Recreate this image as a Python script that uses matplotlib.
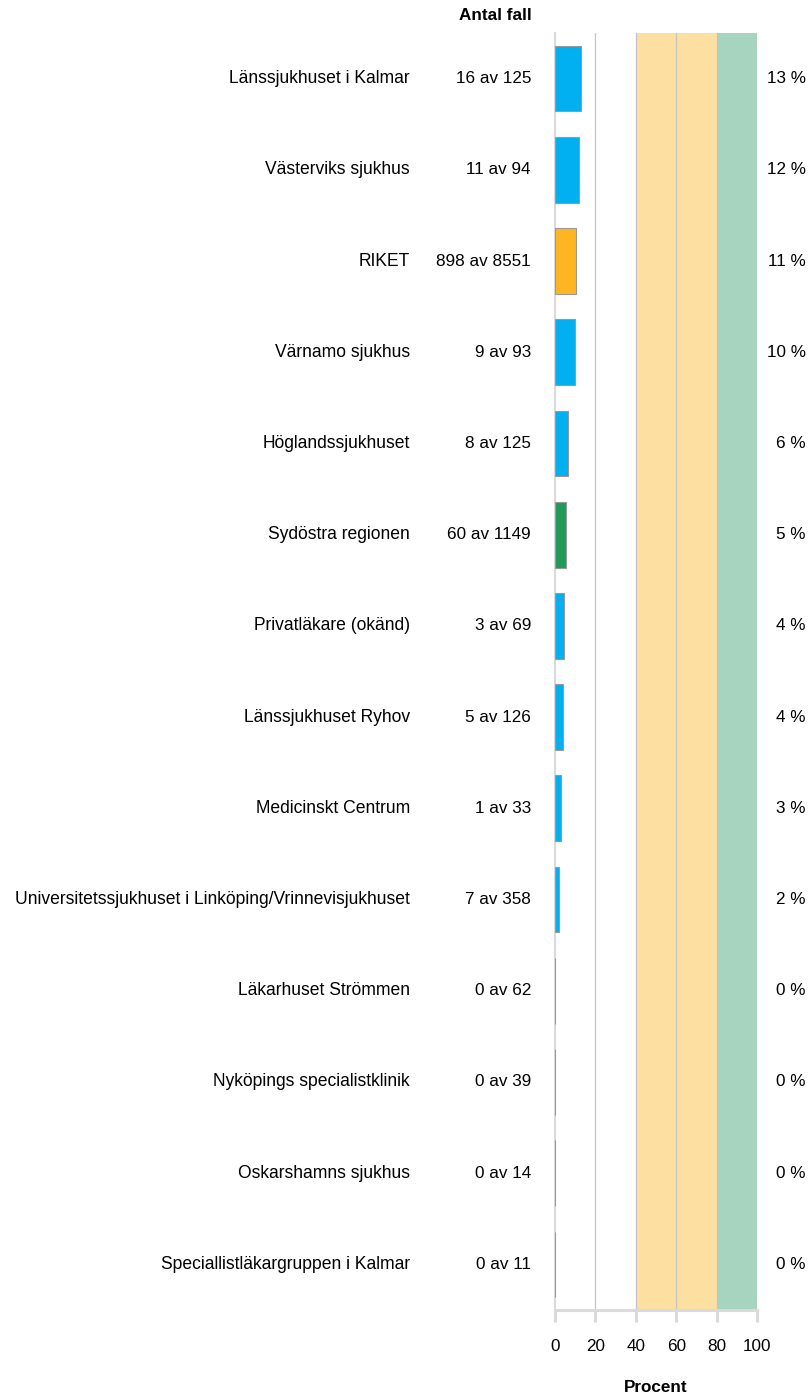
import numpy as np
import matplotlib
matplotlib.use("Agg")
import matplotlib.pyplot as plt

plt.rcParams['font.family'] = ['Liberation Sans', 'DejaVu Sans']

# data
names = ["Länssjukhuset i Kalmar", "Västerviks sjukhus", "RIKET", "Värnamo sjukhus",
         "Höglandssjukhuset", "Sydöstra regionen", "Privatläkare (okänd)",
         "Länssjukhuset Ryhov", "Medicinskt Centrum",
         "Universitetssjukhuset i Linköping/Vrinnevisjukhuset",
         "Läkarhuset Strömmen", "Nyköpings specialistklinik", "Oskarshamns sjukhus",
         "Speciallistläkargruppen i Kalmar"]
cases = [16, 11, 898, 9, 8, 60, 3, 5, 1, 7, 0, 0, 0, 0]
totals = [125, 94, 8551, 93, 125, 1149, 69, 126, 33, 358, 62, 39, 14, 11]
kind = ["unit", "unit", "nation", "unit", "unit", "region", "unit", "unit", "unit",
        "unit", "unit", "unit", "unit", "unit"]
xticks = [0, 20, 40, 60, 80, 100]

colors = {"unit": "#00B0F0", "nation": "#FFB521", "region": "#1F9A5B"}
pct = [100 * c / t for c, t in zip(cases, totals)]
n = len(names)
y = np.arange(n)
FS = 12.3
W, H = 811, 1398

fig = plt.figure(figsize=(W / 100, H / 100), dpi=100)
ax = fig.add_axes([555 / W, 1 - 1310 / H, 202 / W, 1277 / H])

# target zones
ax.axvspan(40, 80, color="#FDDFA1", zorder=0, lw=0)
ax.axvspan(80, 100, color="#A6D4BF", zorder=0, lw=0)
for xv in [20, 40, 60, 80, 100]:
    ax.axvline(xv, color="#C4C4C4", lw=0.9, zorder=1)

ax.barh(y, pct, height=0.72, color=[colors[k] for k in kind],
        edgecolor="#999999", linewidth=0.8, zorder=3)

ax.set_xlim(0, 100)
ax.set_ylim(n - 0.5, -0.5)
ax.set_yticks([])
ax.set_xticks(xticks)
ax.set_xticklabels([str(v) for v in xticks], fontsize=FS)
ax.tick_params(axis="x", length=8.6, width=2.2, color="#DADADA", pad=12)
for s in ["top", "right"]:
    ax.spines[s].set_visible(False)
ax.spines["bottom"].set_color("#DADADA")
ax.spines["bottom"].set_linewidth(2.2)
ax.spines["left"].set_color("#DADADA")
ax.spines["left"].set_linewidth(1.5)

tr = ax.get_yaxis_transform()
for i in range(n):
    ax.text((410 - 555) / 202, i, names[i], transform=tr,
            ha="right", va="center", fontsize=12.65)
    ax.text((531 - 555) / 202, i, f"{cases[i]} av {totals[i]}", transform=tr,
            ha="right", va="center", fontsize=FS)
    ax.text((806 - 555) / 202, i, f"{round(pct[i]):.0f} %", transform=tr,
            ha="right", va="center", fontsize=FS)

fig.text(532 / W, 1 - 15 / H, "Antal fall", ha="right", va="center",
         fontsize=FS, fontweight="bold")
fig.text(656 / W, 1 - 1387 / H, "Procent", ha="center", va="center",
         fontsize=FS, fontweight="bold")

fig.savefig("out.png", dpi=100)
